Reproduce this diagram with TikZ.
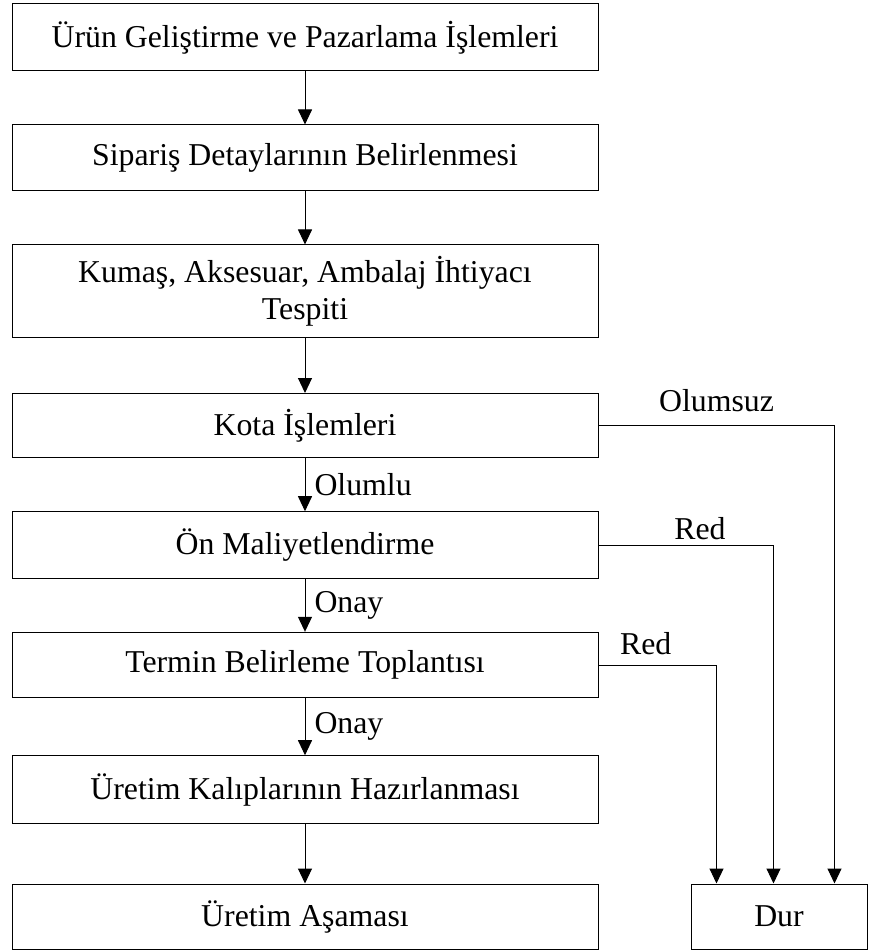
\documentclass[tikz,border=0pt]{standalone}
\usepackage{fontspec}
\setmainfont{Liberation Serif}
\usetikzlibrary{arrows.meta, positioning, calc}

\begin{document}
\begin{tikzpicture}[x=1pt, y=-1pt, font=\fontsize{31.8}{37}\selectfont,
    kutu/.style={draw, line width=1pt, minimum width=586pt, inner sep=0pt, align=center},
    ok/.style={line width=1pt, -{Triangle[length=15pt, width=14pt]}},
    etiket/.style={inner sep=0pt}]
    \useasboundingbox (0,0) rectangle (869,951);

    % ana akış kutuları
    \node[kutu, minimum height=66.7pt] (urun) at (305,37.3) {Ürün Geliştirme ve Pazarlama İşlemleri};
    \node[kutu, minimum height=65.7pt] (siparis) at (305,157.8) {Sipariş Detaylarının Belirlenmesi};
    \node[kutu, minimum height=92.7pt] (kumas) at (305,291.3) {Kumaş, Aksesuar, Ambalaj İhtiyacı\\Tespiti};
    \node[kutu, minimum height=63.8pt] (kota) at (305,425.4) {Kota İşlemleri};
    \node[kutu, minimum height=66.6pt] (maliyet) at (305,545) {Ön Maliyetlendirme};
    \node[kutu, minimum height=65.4pt] (termin) at (305,665) {Termin Belirleme Toplantısı};
    \node[kutu, minimum height=68pt] (kalip) at (305,789.7) {Üretim Kalıplarının Hazırlanması};
    \node[kutu, minimum height=65pt] (uretim) at (305,916.5) {Üretim Aşaması};
    \node[kutu, minimum width=176pt, minimum height=65pt] (dur) at (779,916.5) {Dur};

    % dikey oklar
    \draw[ok] (urun) -- (siparis);
    \draw[ok] (siparis) -- (kumas);
    \draw[ok] (kumas) -- (kota);
    \draw[ok] (kota) -- node[right=9pt, etiket] {Olumlu} (maliyet);
    \draw[ok] (maliyet) -- node[right=9pt, etiket] {Onay} (termin);
    \draw[ok] (termin) -- node[right=9pt, etiket] {Onay} (kalip);
    \draw[ok] (kalip) -- (uretim);

    % Dur kutusuna giden hatlar
    \draw[ok] (kota.east) -| node[pos=0.25, above=13pt, etiket] {Olumsuz} ([xshift=144pt]dur.north west);
    \draw[ok] (maliyet.east) -| node[pos=0.29, above=5pt, etiket] {Red} ([xshift=83pt]dur.north west);
    \draw[ok] (termin.east) -| node[pos=0.2, above=10pt, etiket] {Red} ([xshift=26pt]dur.north west);
\end{tikzpicture}
\end{document}
